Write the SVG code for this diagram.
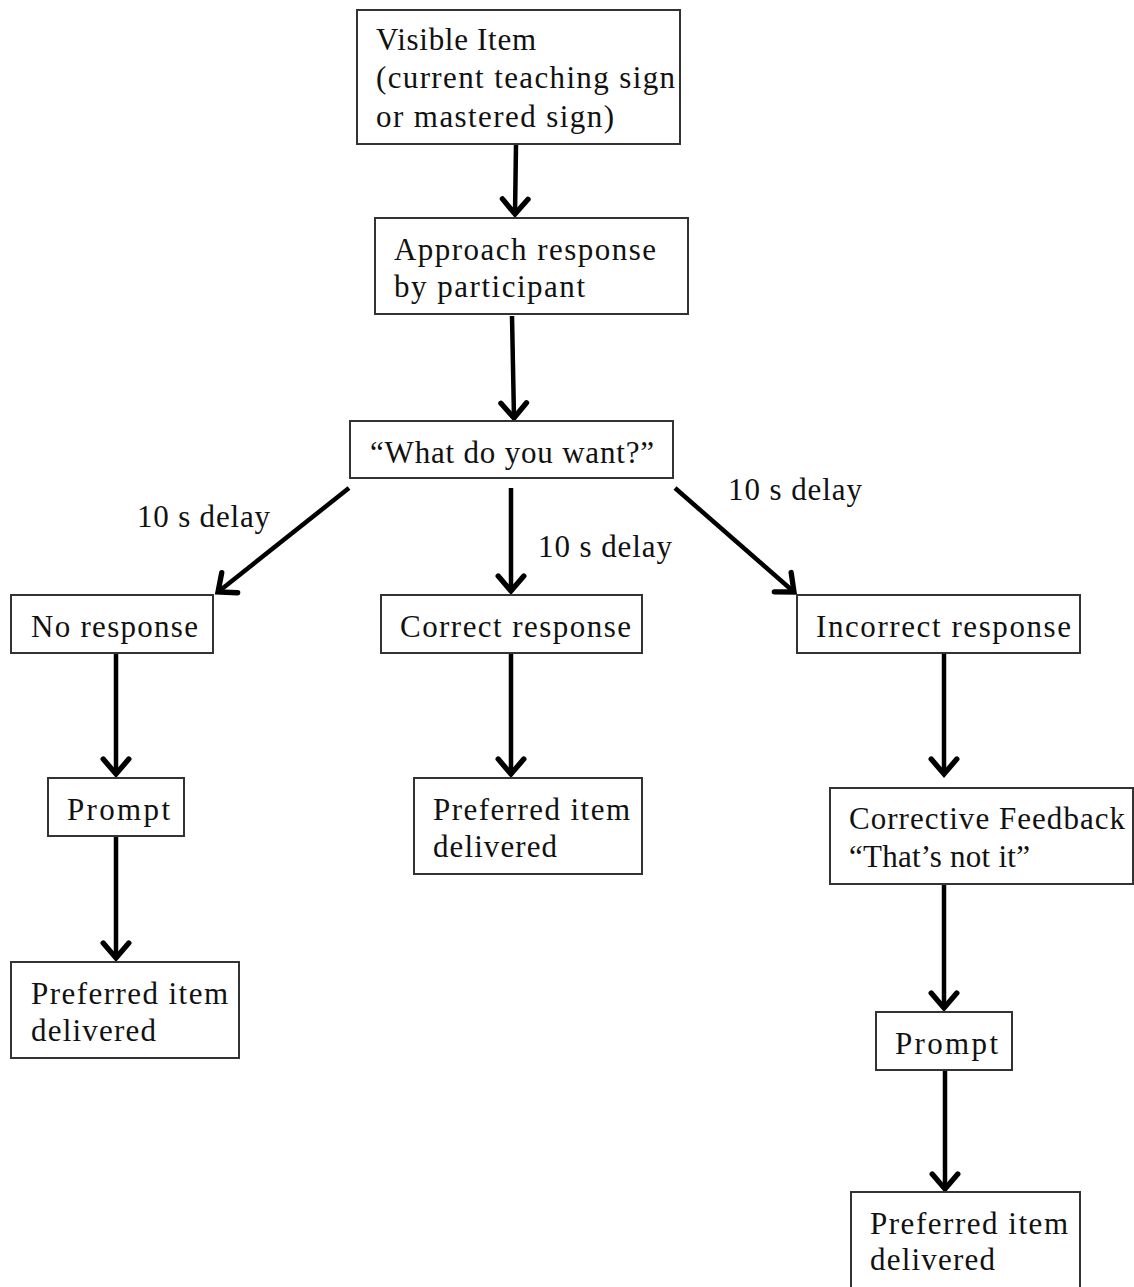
<svg xmlns="http://www.w3.org/2000/svg" width="1134" height="1287" viewBox="0 0 1134 1287">
<style>
.box{fill:#fff;stroke:#333;stroke-width:2}
.t{font-family:"Liberation Serif","Times New Roman",serif;font-size:31px;fill:#111}
.c{stroke:#000;stroke-width:4.5;fill:none}
</style>
<defs>
<marker id="ah" markerUnits="userSpaceOnUse" markerWidth="32" markerHeight="32" viewBox="-17 -15 21 30" refX="0" refY="0" orient="auto">
<path d="M -14 -12 L 0 0 L -14 12" fill="none" stroke="#000" stroke-width="5" stroke-linecap="round" stroke-linejoin="miter"/>
</marker>
</defs>
<rect width="1134" height="1287" fill="#fff"/>
<g id="connectors">
<line class="c" x1="516" y1="145" x2="515" y2="214" marker-end="url(#ah)"/>
<line class="c" x1="512" y1="316" x2="514" y2="418" marker-end="url(#ah)"/>
<line class="c" x1="349" y1="488" x2="218" y2="592" marker-end="url(#ah)"/>
<line class="c" x1="511" y1="488" x2="511" y2="591" marker-end="url(#ah)"/>
<line class="c" x1="675" y1="488" x2="794" y2="592" marker-end="url(#ah)"/>
<line class="c" x1="116" y1="654" x2="116" y2="774" marker-end="url(#ah)"/>
<line class="c" x1="511" y1="654" x2="511" y2="774" marker-end="url(#ah)"/>
<line class="c" x1="944" y1="654" x2="944" y2="774" marker-end="url(#ah)"/>
<line class="c" x1="116" y1="837" x2="116" y2="958" marker-end="url(#ah)"/>
<line class="c" x1="944" y1="885" x2="944" y2="1008" marker-end="url(#ah)"/>
<line class="c" x1="945" y1="1071" x2="945" y2="1189" marker-end="url(#ah)"/>
<text class="t" x="137" y="527" textLength="133">10 s delay</text>
<text class="t" x="538" y="557" textLength="134">10 s delay</text>
<text class="t" x="728" y="500" textLength="134">10 s delay</text>
</g>
<g id="visible">
<rect class="box" x="357" y="10" width="323" height="134"/>
<text class="t" x="376" y="50" textLength="160">Visible Item</text>
<text class="t" x="376" y="88" textLength="299">(current teaching sign</text>
<text class="t" x="376" y="127" textLength="238">or mastered sign)</text>
</g>
<g id="approach">
<rect class="box" x="375" y="218" width="313" height="96"/>
<text class="t" x="394" y="260" textLength="262">Approach response</text>
<text class="t" x="394" y="297" textLength="191">by participant</text>
</g>
<g id="what">
<rect class="box" x="350" y="421" width="323" height="57"/>
<text class="t" x="370" y="463" textLength="284">“What do you want?”</text>
</g>
<g id="noresp">
<rect class="box" x="11" y="595" width="202" height="58"/>
<text class="t" x="31" y="637" textLength="167">No response</text>
</g>
<g id="correct">
<rect class="box" x="381" y="595" width="261" height="58"/>
<text class="t" x="400" y="637" textLength="231">Correct response</text>
</g>
<g id="incorrect">
<rect class="box" x="797" y="595" width="283" height="58"/>
<text class="t" x="816" y="637" textLength="255">Incorrect response</text>
</g>
<g id="prompt1">
<rect class="box" x="48" y="778" width="136" height="58"/>
<text class="t" x="67" y="820" textLength="103">Prompt</text>
</g>
<g id="pref2">
<rect class="box" x="414" y="778" width="228" height="96"/>
<text class="t" x="433" y="820" textLength="197">Preferred item</text>
<text class="t" x="433" y="857" textLength="124">delivered</text>
</g>
<g id="corrective">
<rect class="box" x="830" y="788" width="303" height="96"/>
<text class="t" x="849" y="829" textLength="276">Corrective Feedback</text>
<text class="t" x="849" y="867" textLength="181">“That’s not it”</text>
</g>
<g id="pref1">
<rect class="box" x="11" y="962" width="228" height="96"/>
<text class="t" x="31" y="1004" textLength="197">Preferred item</text>
<text class="t" x="31" y="1041" textLength="125">delivered</text>
</g>
<g id="prompt3">
<rect class="box" x="876" y="1012" width="136" height="58"/>
<text class="t" x="895" y="1054" textLength="103">Prompt</text>
</g>
<g id="pref3">
<rect class="box" x="851" y="1192" width="229" height="110"/>
<text class="t" x="870" y="1234" textLength="198">Preferred item</text>
<text class="t" x="870" y="1270" textLength="125">delivered</text>
</g>
</svg>
